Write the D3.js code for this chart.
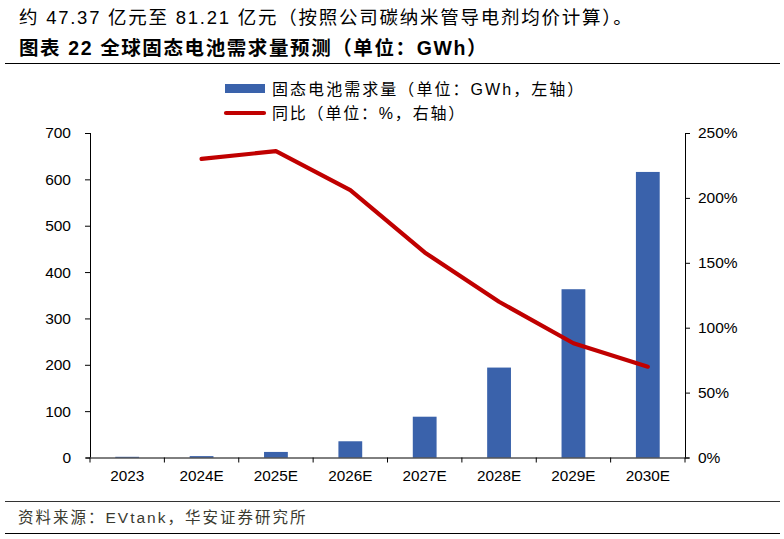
<!DOCTYPE html>
<html><head><meta charset="utf-8">
<script src="https://cdn.jsdelivr.net/npm/d3@7"></script>
<style>
body{margin:0;background:#fff;}
svg{display:block;font-family:"Liberation Sans","Noto Sans CJK SC",sans-serif;}
</style></head>
<body>
<svg id="c" width="784" height="539"></svg>
<script>
const categories = ["2023","2024E","2025E","2026E","2027E","2028E","2029E","2030E"];
const demand = [1.5, 3, 12, 35, 88, 194, 363, 616];
const yoyCats = ["2024E","2025E","2026E","2027E","2028E","2029E","2030E"];
const yoy = [230, 236, 206, 158, 120, 88, 70];
const leftTicks = [0,100,200,300,400,500,600,700];
const rightTicks = [0,50,100,150,200,250];

const svg = d3.select("#c");
const mix = '"Liberation Sans","Noto Sans CJK SC",sans-serif';

function txt(x,y,size,s,ls,opts={}){
  const t = svg.append("text").attr("x",x).attr("y",y).attr("font-size",size)
    .attr("fill",opts.fill||"#000").style("font-family",mix).style("letter-spacing",ls+"px").text(s);
  if(opts.bold) t.attr("font-weight","bold");
  return t;
}

txt(19,24,18.5,"约 47.37 亿元至 81.21 亿元（按照公司碳纳米管导电剂均价计算）。",1.75);
txt(19,55,19.5,"图表 22 全球固态电池需求量预测（单位：GWh）",1.6,{bold:true});
svg.append("line").attr("x1",5).attr("x2",780).attr("y1",63.5).attr("y2",63.5).attr("stroke","#000").attr("stroke-width",1);
svg.append("line").attr("x1",5).attr("x2",780).attr("y1",501.5).attr("y2",501.5).attr("stroke","#333").attr("stroke-width",1);
svg.append("line").attr("x1",5).attr("x2",780).attr("y1",533.5).attr("y2",533.5).attr("stroke","#000").attr("stroke-width",1);
txt(18,523,15.5,"资料来源：EVtank，华安证券研究所",2.0,{fill:"#3a3a30"});

const L = 90, R = 685, T = 133, B = 457.5;
const x = d3.scaleBand().domain(categories).range([L,R]).paddingInner(0.68).paddingOuter(0.34);
const yL = d3.scaleLinear().domain([0,700]).range([B,T]);
const yR = d3.scaleLinear().domain([0,250]).range([B,T]);

// bars
svg.append("g").selectAll("rect").data(demand).join("rect")
  .attr("x",(d,i)=>x(categories[i])).attr("width",x.bandwidth())
  .attr("y",d=>yL(d)).attr("height",d=>B-yL(d)).attr("fill","#3A62AB");

// line
const xc = c => x(c)+x.bandwidth()/2;
svg.append("path").datum(yoy).attr("fill","none").attr("stroke","#C00000").attr("stroke-width",4.2)
  .attr("stroke-linecap","round").attr("stroke-linejoin","round")
  .attr("d", d3.line().x((d,i)=>xc(yoyCats[i])).y(d=>yR(d)));

// axes
const tickFont = '"Liberation Sans",sans-serif';
const xb = d3.scaleBand().domain(categories).range([L,R]);
const gx = svg.append("g").attr("transform",`translate(0,${B})`)
  .call(d3.axisBottom(xb).tickSize(0).tickPadding(13));
gx.select(".domain").remove();
gx.append("line").attr("x1",L-4).attr("x2",R+4).attr("y1",0.5).attr("y2",0.5).attr("stroke","#000");
gx.selectAll(".sep").data(d3.range(categories.length+1)).join("line")
  .attr("x1",i=>L+i*xb.step()).attr("x2",i=>L+i*xb.step()).attr("y1",0).attr("y2",5).attr("stroke","#000");
gx.selectAll("text").attr("font-size",15.3).attr("fill","#000").style("font-family",tickFont);

const gl = svg.append("g").attr("transform",`translate(${L},0)`)
  .call(d3.axisLeft(yL).tickValues(leftTicks).tickSize(5).tickPadding(14).tickFormat(d3.format("d")));
gl.select(".domain").attr("d",`M0.5,${T}V${B}`).attr("stroke","#000");
gl.selectAll("line").attr("stroke","#000");
gl.selectAll("text").attr("font-size",15.5).attr("fill","#000").style("font-family",tickFont);

const gr = svg.append("g").attr("transform",`translate(${R},0)`)
  .call(d3.axisRight(yR).tickValues(rightTicks).tickSize(5).tickPadding(8).tickFormat(d=>d+"%"));
gr.select(".domain").attr("d",`M0.5,${T}V${B}`).attr("stroke","#000");
gr.selectAll("line").attr("stroke","#000");
gr.selectAll("text").attr("font-size",15.5).attr("fill","#000").style("font-family",tickFont);

// legend
svg.append("rect").attr("x",225).attr("y",84).attr("width",40).attr("height",9).attr("fill","#3A62AB");
txt(272,95,16,"固态电池需求量（单位：GWh，左轴）",2.05);
svg.append("line").attr("x1",226).attr("x2",264).attr("y1",113).attr("y2",113).attr("stroke","#C00000")
  .attr("stroke-width",4.2).attr("stroke-linecap","round");
txt(272,119,16,"同比（单位：%，右轴）",1.8);
</script>
</body></html>
